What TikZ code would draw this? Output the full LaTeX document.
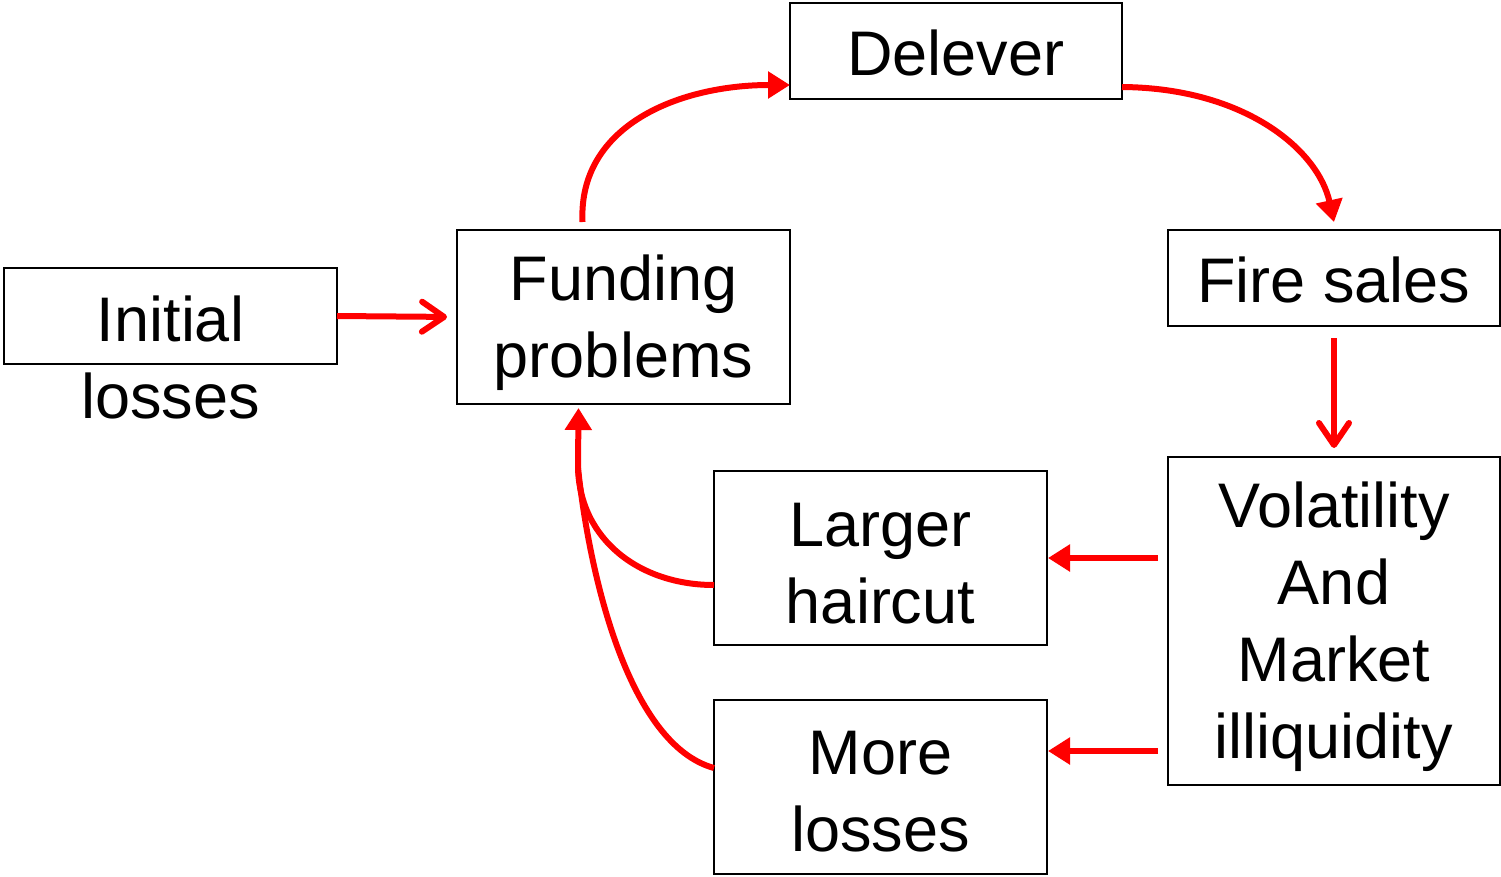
\documentclass[tikz,border=0pt]{standalone}
\usepackage{fontspec}
\setmainfont{Liberation Sans}
\usetikzlibrary{arrows.meta}
\begin{document}
\begin{tikzpicture}[x=1pt,y=-1pt,
  box/.style={draw=black,line width=2pt,inner sep=0pt,outer sep=0pt},
  txt/.style={inner sep=0pt,align=center,font=\fontsize{63}{77}\selectfont},
  arr/.style={draw=red,line width=6pt},
  tri/.style={arr,-{Triangle[length=22pt,width=26pt]}},
  barb/.style={arr,-{Straight Barb[length=22pt,width=30pt,round]}}]
\useasboundingbox (0,0) rectangle (1501,876);
% boxes
\node[box,minimum width=333pt,minimum height=96pt] (init) at (170.5,316) {};
\node[box,minimum width=333pt,minimum height=174pt] (fund) at (623.5,317) {};
\node[box,minimum width=332pt,minimum height=96pt] (del) at (956,51) {};
\node[box,minimum width=332pt,minimum height=96pt] (fire) at (1334,278) {};
\node[box,minimum width=332pt,minimum height=328pt] (vol) at (1334,621) {};
\node[box,minimum width=333pt,minimum height=174pt] (larger) at (880.5,558) {};
\node[box,minimum width=333pt,minimum height=174pt] (more) at (880.5,787) {};
% texts
\node[txt] (inittxt) at (170.5,357) {Initial\\losses};
\node[txt] (fundtxt) at (623.5,323) {Funding\\problems};
\node[txt] (deltxt) at (956,53) {Delever};
\node[txt] (firetxt) at (1334,280) {Fire sales};
\node[txt] (voltxt) at (1334,627) {Volatility\\And\\Market\\illiquidity};
\node[txt] (largertxt) at (880.5,564) {Larger\\haircut};
\node[txt] (moretxt) at (880.5,792) {More\\losses};
% connectors
\draw[barb,shorten >=10pt] (init.east) -- (fund.west);
\draw[tri] ([xshift=-41pt,yshift=8pt]fund.north) .. controls (578,125) and (680,85) .. ([yshift=-34pt]del.west);
\draw[tri] ([yshift=-36pt]del.east) .. controls (1245,88) and (1318,150) .. ([yshift=8pt]fire.north);
\draw[barb,shorten <=12pt,shorten >=9pt] (fire.south) -- (vol.north);
\draw[tri] ([xshift=-10pt]vol.west |- larger.east) -- ([xshift=1pt]larger.east);
\draw[tri] ([xshift=-10pt,yshift=36pt]vol.west |- more.east) -- ([xshift=1pt,yshift=36pt]more.east);
\coordinate (j) at (578,468);
\draw[tri] ([yshift=-27pt]larger.west) .. controls (640,585) and (580,540) .. (j) -- ([xshift=-45pt,yshift=-4pt]fund.south);
\draw[arr] ([yshift=19pt]more.west) .. controls (630,745) and (590,580) .. (j);
\end{tikzpicture}
\end{document}
